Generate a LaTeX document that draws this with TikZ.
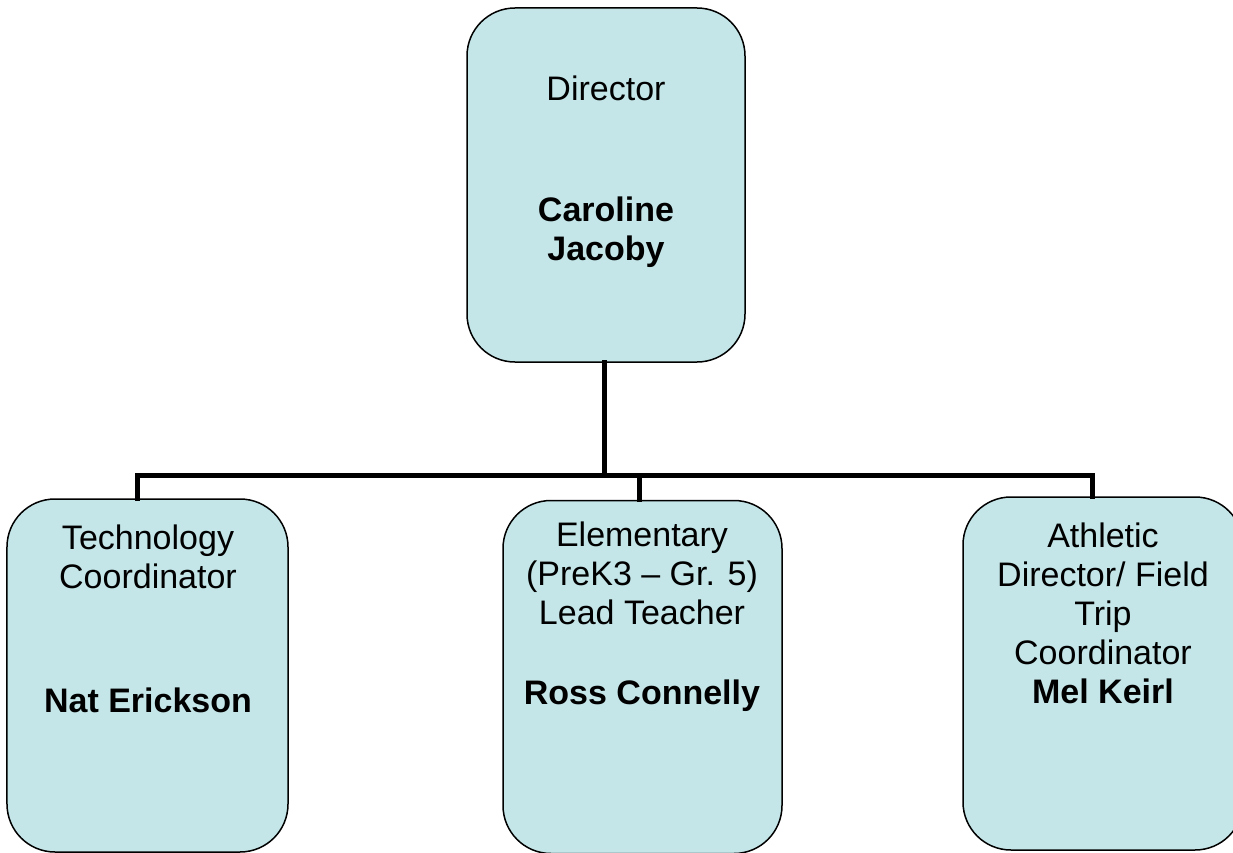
\documentclass[tikz,border=0pt]{standalone}
\usepackage{fontspec}
\setmainfont{Liberation Sans}
\definecolor{boxfill}{RGB}{196,230,232}
\tikzset{
  orgbox/.style={draw=black, line width=1.5bp, fill=boxfill, rounded corners=48bp,
    minimum width=#1, minimum height=353bp, inner sep=0pt},
  orgtext/.style={align=center, font=\fontsize{34bp}{39bp}\selectfont, inner sep=0pt},
  conn/.style={line width=5bp, line join=miter, line cap=rect}
}
\begin{document}
\begin{tikzpicture}[x=1bp,y=-1bp]
\useasboundingbox (0,0) rectangle (1233,853);
\clip (0,0) rectangle (1233,853);
\fill[white] (0,0) rectangle (1233,853);
% boxes
\node[orgbox=278bp, minimum height=354bp] (dir) at (606,185) {};
\node[orgbox=281bp] (tech) at (147.5,675.5) {};
\node[orgbox=279bp] (elem) at (642.5,677) {};
\node[orgbox=280bp] (ath) at (1103,673.5) {};
% texts
\node[orgtext] (dirt) at (606,172) {Director\\[82bp]\textbf{Caroline}\\\textbf{Jacoby}};
\node[orgtext] (techt) at (148,618.5) {Technology\\Coordinator\\[85bp]\textbf{Nat Erickson}};
\node[orgtext] (elemt) at (642,617) {Elementary\\(PreK3 – Gr. 5)\\Lead Teacher\\[41bp]\textbf{Ross Connelly}};
\node[orgtext] (atht) at (1103,613) {Athletic\\Director/ Field\\Trip\\Coordinator\\\textbf{Mel Keirl}};
% connectors
\coordinate (bus) at (0,475);
\draw[conn] ([xshift=-2bp]dir.south) -- ([xshift=-2bp]dir.south |- bus);
\draw[conn] ([xshift=-10.5bp]tech.north) -- ([xshift=-10.5bp]tech.north |- bus) -- ([xshift=-11bp]ath.north |- bus) -- ([xshift=-11bp]ath.north);
\draw[conn] ([xshift=-3bp]elem.north) -- ([xshift=-3bp]elem.north |- bus);
\end{tikzpicture}
\end{document}
